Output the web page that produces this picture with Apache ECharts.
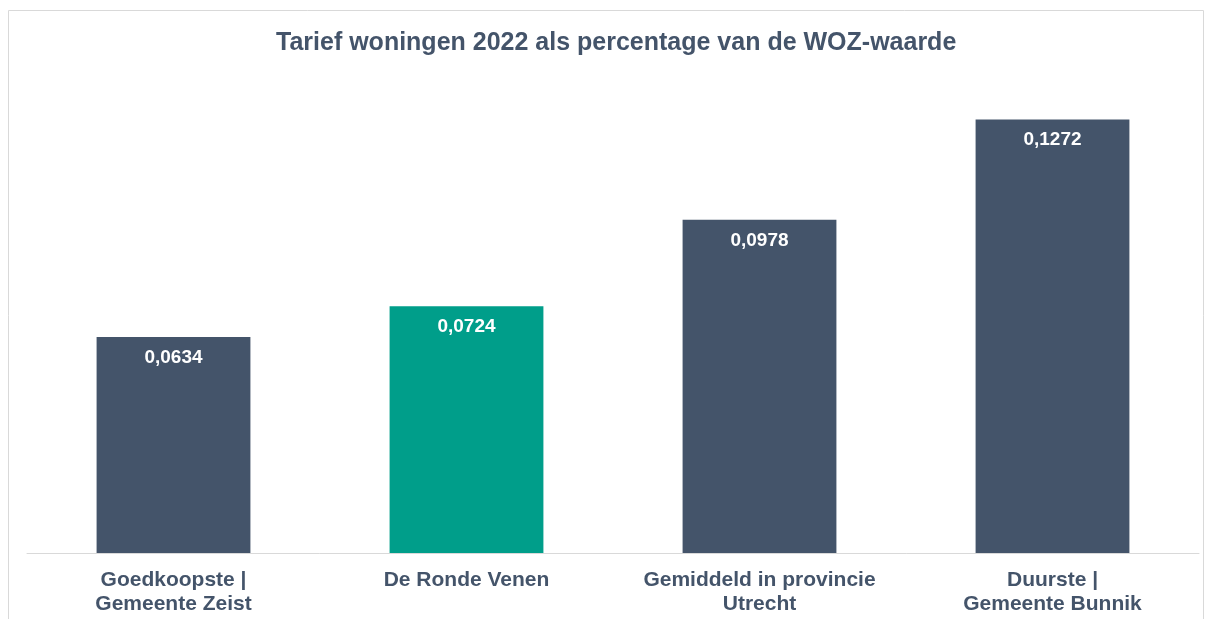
<!DOCTYPE html>
<html>
<head>
<meta charset="utf-8" />
<title>Tarief woningen 2022</title>
<style type="text/css">
  html, body {height:100%; margin:0; padding:0; background:#fff;}
  #main {width:1206px; height:619px;}
</style>
<script type="text/javascript" src="https://cdn.jsdelivr.net/npm/echarts@6/dist/echarts.min.js"></script>
</head>
<body>
<div id="main"></div>
<script type="text/javascript">
var categories = ['Goedkoopste |\nGemeente Zeist', 'De Ronde Venen', 'Gemiddeld in provincie\nUtrecht', 'Duurste |\nGemeente Bunnik'];
var values = [0.0634, 0.0724, 0.0978, 0.1272];
var barColors = ['#44546a', '#009e8a', '#44546a', '#44546a'];

var myChart = echarts.init(document.getElementById('main'));

var data = [];
for (var i = 0; i < values.length; i++) {
  data.push({value: values[i], itemStyle: {color: barColors[i]}});
}

myChart.setOption({
  animation: false,
  textStyle: {fontFamily: 'Liberation Sans, Arial, sans-serif'},
  graphic: [{
    type: 'rect',
    shape: {x: 8.5, y: 10.5, width: 1195, height: 640},
    style: {fill: 'none', stroke: '#d9d9d9', lineWidth: 1},
    silent: true
  }],
  title: {
    text: 'Tarief woningen 2022 als percentage van de WOZ-waarde',
    left: 271,
    top: 26,
    textStyle: {color: '#44546a', fontSize: 25, fontWeight: 'bold'}
  },
  grid: {left: 27, right: 7, top: 76, bottom: 66, containLabel: false},
  xAxis: {
    type: 'category',
    data: categories,
    axisLine: {lineStyle: {color: '#d9d9d9', width: 1}},
    axisTick: {show: false},
    axisLabel: {
      color: '#44546a', fontSize: 21, fontWeight: 'bold',
      lineHeight: 24, margin: 15, interval: 0
    }
  },
  yAxis: {
    type: 'value',
    min: 0,
    max: 0.14,
    show: false,
    splitLine: {show: false}
  },
  series: [{
    type: 'bar',
    data: data,
    barWidth: '52.5%',
    label: {
      show: true,
      position: 'insideTop',
      distance: 11,
      color: '#fff',
      fontSize: 19,
      fontWeight: 'bold',
      formatter: function (p) {
        return String(p.value).replace('.', ',');
      }
    }
  }]
});
</script>
</body>
</html>
